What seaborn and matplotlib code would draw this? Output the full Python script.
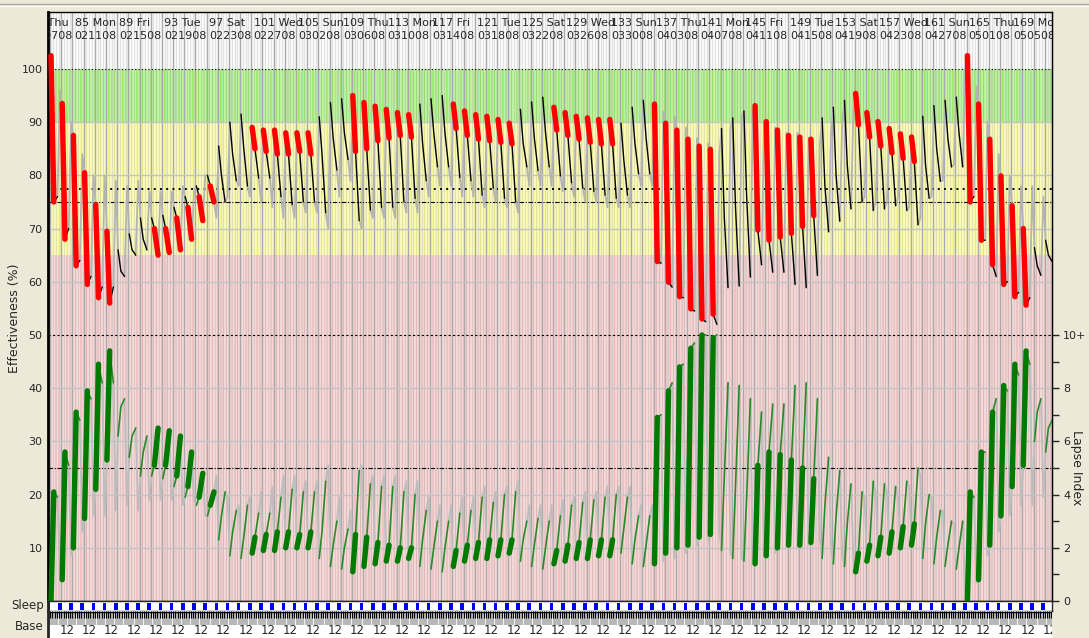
import numpy as np
import pandas as pd
import matplotlib.pyplot as plt
import seaborn as sns
from matplotlib.lines import Line2D

sns.set_style("white")
plt.rcParams['font.family'] = ['DejaVu Sans']

# ---- data (one entry per day, days 83..172) ----
days = list(range(83, 173))
# A = duty right after waking, B = duty late in the day, - = day off
work = list("AAAAAA---BBBBBB---AAAAAA---AAAAAA---AAAAAA---AAAAAA---"
            "AAAAAA---AAAAAA---AAAAAA----AAAAAA--")

eff_wake = [102.5, 93.5, 87.5, 80.5, 74.5, 69.5, 66, 69, 72, 72,
            72.5, 74, 76, 78, 80, 85.5, 90, 91.5, 89, 88.5,
            88.5, 88, 88, 88, 91, 93.7, 94.4, 95, 93.7, 93,
            92.4, 91.8, 91.4, 93.4, 94.4, 95, 93.4, 92.1, 91.4, 91.1,
            90.5, 89.8, 92.4, 93.8, 94.7, 92.8, 91.8, 91.1, 90.8, 90.5,
            90.5, 89.8, 92.8, 94.1, 93.4, 89.8, 88.5, 86.8, 85.5, 84.9,
            88.8, 90.8, 92.1, 93.1, 90.1, 88.5, 87.5, 87.2, 86.8, 90.8,
            92.8, 94.1, 95.4, 91.8, 90.1, 88.8, 87.8, 87.2, 91.1, 93.1,
            94.1, 94.7, 102.5, 93.4, 86.8, 79.9, 74.3, 70, 66.4, 67.8]
eff_mid = [75, 68, 63, 59.5, 57, 56, 62, 66, 68, 70,
           70, 72, 74, 76, 78, 80, 84, 85, 85, 84.5,
           84, 84, 84.5, 84, 84, 87, 88, 84.5, 85, 86.5,
           87, 87.5, 87.2, 86, 88, 88, 88.8, 87.5, 86.8, 86.5,
           86.2, 85.9, 86, 87, 88, 88.5, 87.5, 86.8, 86.2, 85.9,
           85.9, 83, 86, 87, 63.8, 59.9, 57.2, 54.9, 53, 53.9,
           72, 74, 76, 69.7, 67.8, 68.4, 69.1, 70.4, 72.4, 78,
           80, 82, 89.5, 87.2, 85.5, 84.2, 83.2, 82.6, 82, 85,
           87, 88, 75, 67.8, 63.2, 59.5, 57.2, 55.6, 63, 65]
eff_bed = [76, 70, 64, 61, 59, 59, 61, 65, 66, 65,
           65.5, 66, 68, 71.5, 75, 75, 79, 78, 79.5, 79.5,
           76, 74.5, 75, 75, 73, 81, 83, 71.5, 73.5, 74,
           74, 75, 75.7, 79, 81.6, 81.6, 79.6, 79, 76.3, 77.6,
           75.7, 75, 81.6, 80.9, 81.6, 79.9, 78.6, 77.6, 77, 76.3,
           75.7, 76.3, 80.3, 80.3, 63.5, 59, 57, 54.5, 52.5, 52,
           58.9, 59.2, 60.9, 63.2, 61.8, 61.8, 59.5, 58.9, 61.2, 69.4,
           71.4, 73.7, 75, 73.4, 73.7, 74.3, 73.4, 70.7, 75.7, 78.9,
           81.6, 81.6, 76, 67.8, 61, 60, 58, 57, 61.2, 63.8]
# extreme reached during the night before each day (grey trace)
eff_night = [np.nan, 96, 90, 84, 80, 80, 79, 78, 79, 77,
             77, 77, 78, 77, 80, 72, 76, 78, 76, 75,
             74, 72, 72, 73, 73, 70, 76, 79, 70, 72,
             72, 72, 73, 73, 76, 78, 78, 76, 76, 74,
             75, 74, 73, 78, 78, 78, 77, 76, 75, 75,
             74, 74, 74, 78, 78, 92, 91, 89, 87, 86,
             84, 89, 91, 92, 90, 89, 88, 88, 87, 86,
             88, 90, 92, 76, 75, 75, 76, 74, 72, 76,
             79, 82, 100, 96.7, 90, 84, 80, 78, 78, 76]

lapse_wake = [0.0, 0.8, 2.0, 3.1, 4.2, 5.3, 6.2, 5.4, 4.7, 4.7,
              4.6, 4.3, 3.9, 3.6, 3.2, 2.3, 1.7, 1.6, 1.8, 1.9,
              1.9, 2.0, 2.0, 2.0, 1.6, 1.3, 1.2, 1.1, 1.3, 1.4,
              1.5, 1.5, 1.6, 1.3, 1.2, 1.1, 1.3, 1.5, 1.6, 1.6,
              1.7, 1.8, 1.5, 1.3, 1.2, 1.4, 1.5, 1.6, 1.6, 1.7,
              1.7, 1.8, 1.4, 1.3, 1.4, 1.8, 2.0, 2.1, 2.4, 2.5,
              1.9, 1.6, 1.5, 1.4, 1.7, 2.0, 2.1, 2.1, 2.2, 1.6,
              1.4, 1.3, 1.1, 1.5, 1.7, 1.8, 2.0, 2.1, 1.6, 1.4,
              1.3, 1.2, 0.0, 0.8, 2.1, 3.2, 4.3, 5.1, 6.0, 5.6]
lapse_mid = [4.1, 5.6, 7.1, 7.9, 8.9, 9.4, 7.3, 6.2, 5.6, 5.1,
             5.1, 4.7, 4.3, 3.9, 3.6, 3.2, 2.6, 2.4, 2.4, 2.5,
             2.6, 2.6, 2.5, 2.6, 2.6, 2.1, 2.0, 2.5, 2.4, 2.2,
             2.1, 2.0, 2.0, 2.3, 2.0, 2.0, 1.9, 2.1, 2.2, 2.3,
             2.3, 2.3, 2.3, 2.1, 2.0, 1.9, 2.1, 2.2, 2.3, 2.3,
             2.3, 2.7, 2.3, 2.1, 6.9, 7.9, 8.8, 9.5, 10.0, 9.9,
             4.7, 4.3, 3.9, 5.1, 5.6, 5.5, 5.3, 5.0, 4.6, 3.6,
             3.2, 2.9, 1.8, 2.1, 2.4, 2.6, 2.8, 2.9, 2.9, 2.4,
             2.1, 2.0, 4.1, 5.6, 7.1, 8.1, 8.9, 9.4, 7.1, 6.5]
lapse_bed = [3.9, 5.1, 6.8, 7.6, 8.2, 8.2, 7.6, 6.5, 6.2, 6.5,
             6.4, 6.2, 5.6, 4.8, 4.1, 4.1, 3.4, 3.6, 3.3, 3.3,
             3.9, 4.2, 4.1, 4.1, 4.5, 3.0, 2.7, 4.9, 4.4, 4.3,
             4.3, 4.1, 4.0, 3.4, 3.0, 3.0, 3.3, 3.4, 3.9, 3.7,
             4.0, 4.1, 3.0, 3.1, 3.0, 3.2, 3.6, 3.7, 3.8, 3.9,
             4.0, 3.9, 3.2, 3.2, 7.0, 8.2, 8.9, 9.7, 10.0, 10.0,
             8.2, 8.1, 7.6, 7.1, 7.4, 7.4, 8.1, 8.2, 7.6, 5.4,
             4.9, 4.4, 4.1, 4.5, 4.4, 4.3, 4.5, 5.0, 4.0, 3.4,
             3.0, 3.0, 3.9, 5.6, 7.6, 7.9, 8.5, 8.9, 7.6, 6.8]
lapse_night = [np.nan, 1.0, 1.7, 2.6, 3.2, 3.2, 3.4, 3.6, 3.4, 3.8,
               3.8, 3.8, 3.6, 3.8, 3.2, 4.7, 3.9, 3.6, 3.9, 4.1,
               4.3, 4.7, 4.7, 4.5, 4.5, 5.1, 3.9, 3.4, 5.1, 4.7,
               4.7, 4.7, 4.5, 4.5, 3.9, 3.6, 3.6, 3.9, 3.9, 4.3,
               4.1, 4.3, 4.5, 3.6, 3.6, 3.6, 3.8, 3.9, 4.1, 4.1,
               4.3, 4.3, 4.3, 3.6, 3.6, 1.5, 1.6, 1.8, 2.1, 2.3,
               2.6, 1.8, 1.6, 1.5, 1.7, 1.8, 2.0, 2.0, 2.1, 2.3,
               2.0, 1.7, 1.5, 3.9, 4.1, 4.1, 3.9, 4.3, 4.7, 3.9,
               3.4, 2.9, 0.1, 0.7, 1.7, 2.6, 3.2, 3.6, 3.6, 3.9]

header_days = [81, 85, 89, 93, 97, 101, 105, 109, 113, 117, 121, 125,
               129, 133, 137, 141, 145, 149, 153, 157, 161, 165, 169]
header_wd = ['Thu', 'Mon', 'Fri', 'Tue', 'Sat', 'Wed', 'Sun', 'Thu', 'Mon',
             'Fri', 'Tue', 'Sat', 'Wed', 'Sun', 'Thu', 'Mon', 'Fri', 'Tue',
             'Sat', 'Wed', 'Sun', 'Thu', 'Mon']
header_dates = ['020708', '021108', '021508', '021908', '022308', '022708',
                '030208', '030608', '031008', '031408', '031808', '032208',
                '032608', '033008', '040308', '040708', '041108', '041508',
                '041908', '042308', '042708', '050108', '050508']

assert len(work) == len(days)

# time of day (fraction) for wake-up, mid-day and bedtime
WAKE, MID, BED = 0.08, 0.33, 0.66
XMIN, XMAX = 82.81, 172.65
YTOP = 110.7


def segments(wake, mid, bed, night):
    awake, duty, sleep = [], [], []
    for i, d in enumerate(days):
        pts = [(d + WAKE, wake[i]), (d + MID, mid[i]), (d + BED, bed[i])]
        awake += [(i, t, v) for t, v in pts]
        if work[i] == 'A':
            duty += [(i, *pts[0]), (i, *pts[1])]
        elif work[i] == 'B':
            duty += [(i, *pts[1]), (i, *pts[2])]
        if i > 0:
            sleep += [(i, days[i - 1] + BED, bed[i - 1]),
                      (i, d - 0.12, night[i]), (i, d + WAKE, wake[i])]
    cols = ['unit', 't', 'v']
    return (pd.DataFrame(awake, columns=cols), pd.DataFrame(duty, columns=cols),
            pd.DataFrame(sleep, columns=cols))


W, H = 1089, 638
fig = plt.figure(figsize=(W / 100, H / 100), dpi=100, facecolor='#ECE9D8')
ax = fig.add_axes([48 / W, 1 - 601 / H, 1004 / W, 589 / H])
ax_s = fig.add_axes([48 / W, 1 - 611 / H, 1004 / W, 10 / H])
ax_b = fig.add_axes([48 / W, 0, 1004 / W, 27 / H])

# window chrome line at top
fig.add_artist(Line2D([0, 1], [1 - 4 / H] * 2, color='#aca899', lw=1))
fig.add_artist(Line2D([0, 1], [1 - 6 / H] * 2, color='white', lw=1))

# background bands
ax.set_facecolor('white')
ax.axhspan(90, 100, color='#9cf06a', zorder=0, lw=0)
ax.axhspan(65, 90, color='#ffff99', zorder=0, lw=0)
ax.axhspan(0, 65, color='#f7c6c6', zorder=0, lw=0)
quarters = np.arange(np.floor(XMIN), XMAX, 0.25)
ax.vlines(quarters + 0.125, 0, YTOP, colors='white', alpha=0.45, lw=1.2, zorder=0.4)
ax.vlines(quarters, 0, YTOP, colors='#9a9a9a', alpha=0.28, lw=1.0, zorder=0.5)
ax.vlines(np.arange(83, 173), 0, YTOP, colors='#aaaaaa', lw=1.0, zorder=0.6)
ax.hlines([10, 20, 30, 40, 60, 70, 80, 90], XMIN, XMAX, colors='#c4c4c4', lw=1, zorder=1)

# criterion lines
ax.axhline(100, color='black', lw=0.8, ls=(0, (1, 2)), zorder=2)
ax.axhline(77.5, color='black', lw=1.4, ls=(0, (1, 2.2)), zorder=2)
ax.axhline(75, color='black', lw=0.8, ls=(0, (4, 1.5, 1, 1.5)), zorder=2)
ax.axhline(50, color='black', lw=0.8, ls=(0, (2, 2)), zorder=2)
ax.axhline(25, color='black', lw=0.8, ls=(0, (4, 1.5, 1, 1.5)), zorder=2)

# effectiveness
e_awake, e_duty, e_sleep = segments(eff_wake, eff_mid, eff_bed, eff_night)
kw = dict(x='t', y='v', units='unit', estimator=None, sort=False, ax=ax, legend=False)
sns.lineplot(data=e_sleep, color='#b4b4b4', lw=1.3, zorder=3, **kw)
sns.lineplot(data=e_awake, color='black', lw=1.0, zorder=4, **kw)
sns.lineplot(data=e_duty, color='#ff0000', lw=3.9, zorder=5, **kw)

ax.set_xlim(XMIN, XMAX)
ax.set_ylim(0, YTOP)
ax.set_xticks([])
ax.set_yticks(range(10, 101, 10))
ax.tick_params(axis='y', length=0, pad=4, labelsize=8)
ax.set_xlabel('')
ax.set_ylabel('Effectiveness (%)', fontsize=9, labelpad=10)
ax.yaxis.set_label_coords(-0.027, 0.48)

for hd, wd, dt in zip(header_days, header_wd, header_dates):
    ax.text(hd + 0.2, 108.6, f'{hd} {wd}', fontsize=8, ha='left', va='center',
            clip_on=True, zorder=6)
    ax.text(hd + 0.2, 106.1, dt, fontsize=8, ha='left', va='center',
            clip_on=True, zorder=6)

for side in ['top', 'right', 'bottom']:
    ax.spines[side].set_linewidth(1)
    ax.spines[side].set_color('black')
ax.spines['left'].set_linewidth(2)
ax.spines['left'].set_color('black')

# lapse index on the right scale (10 lapses = 50 %)
ax2 = ax.twinx()
l_awake, l_duty, l_sleep = segments(lapse_wake, lapse_mid, lapse_bed, lapse_night)
kw2 = dict(kw, ax=ax2)
sns.lineplot(data=l_sleep, color='#bdbdbd', lw=1.3, zorder=3, **kw2)
sns.lineplot(data=l_awake, color='#2a8a2a', lw=1.2, zorder=4, **kw2)
sns.lineplot(data=l_duty, color='#007a00', lw=3.9, zorder=5, **kw2)
ax2.set_xlim(XMIN, XMAX)
ax2.set_ylim(0, YTOP / 5)
ax2.set_yticks([0, 2, 4, 6, 8, 10])
ax2.set_yticklabels(['0', '2', '4', '6', '8', '10+'])
ax2.set_yticks([1, 3, 5, 7, 9], minor=True)
ax2.tick_params(axis='y', which='both', length=5, width=1, direction='out',
                labelsize=8, pad=3, right=True)
ax2.set_ylabel('')
ax2.set_xlabel('')
for side in ax2.spines:
    ax2.spines[side].set_visible(side == 'right')
ax2.spines['right'].set_color('black')
fig.text(1076 / W, 1 - 468 / H, 'Lapse Index', rotation=270, fontsize=9,
         ha='center', va='center')

# sleep strip
ax_s.set_facecolor('white')
sleep_start = [days[0] - 1 + BED] + [d + BED for d in days]
ax_s.broken_barh([(s + 0.05, 1 + WAKE - BED - 0.1) for s in sleep_start], (0.15, 0.7),
                 facecolors='#0000ff', lw=0)
ax_s.set_xlim(XMIN, XMAX)
ax_s.set_ylim(0, 1)
ax_s.set_xticks([])
ax_s.set_yticks([])
for side in ax_s.spines:
    ax_s.spines[side].set_linewidth(1)
ax_s.spines['left'].set_linewidth(2)
fig.text(44 / W, 1 - 606 / H, 'Sleep', fontsize=8.5, ha='right', va='center')

# base strip: time ticks and noon labels
ax_b.set_facecolor('white')
ticks = np.arange(np.floor(XMIN), XMAX, 0.2)
ax_b.vlines(ticks + 0.06, 0.48, 0.95, colors='#b8b8b8', lw=1.6, zorder=1)
ax_b.vlines(ticks, 0.74, 1, colors='black', lw=0.8, zorder=2)
ax_b.axhline(0.97, color='black', lw=1)
for d in range(84, 173, 2):
    ax_b.text(d + 0.5, 0.26, '12', fontsize=8.5, ha='center', va='center', clip_on=True)
ax_b.set_xlim(XMIN, XMAX)
ax_b.set_ylim(0, 1)
ax_b.set_xticks([])
ax_b.set_yticks([])
for side in ['top', 'right', 'bottom']:
    ax_b.spines[side].set_visible(False)
ax_b.spines['left'].set_linewidth(2)
fig.text(44 / W, 1 - 626 / H, 'Base', fontsize=8.5, ha='right', va='center')

fig.savefig('out.png', dpi=100, facecolor=fig.get_facecolor())
